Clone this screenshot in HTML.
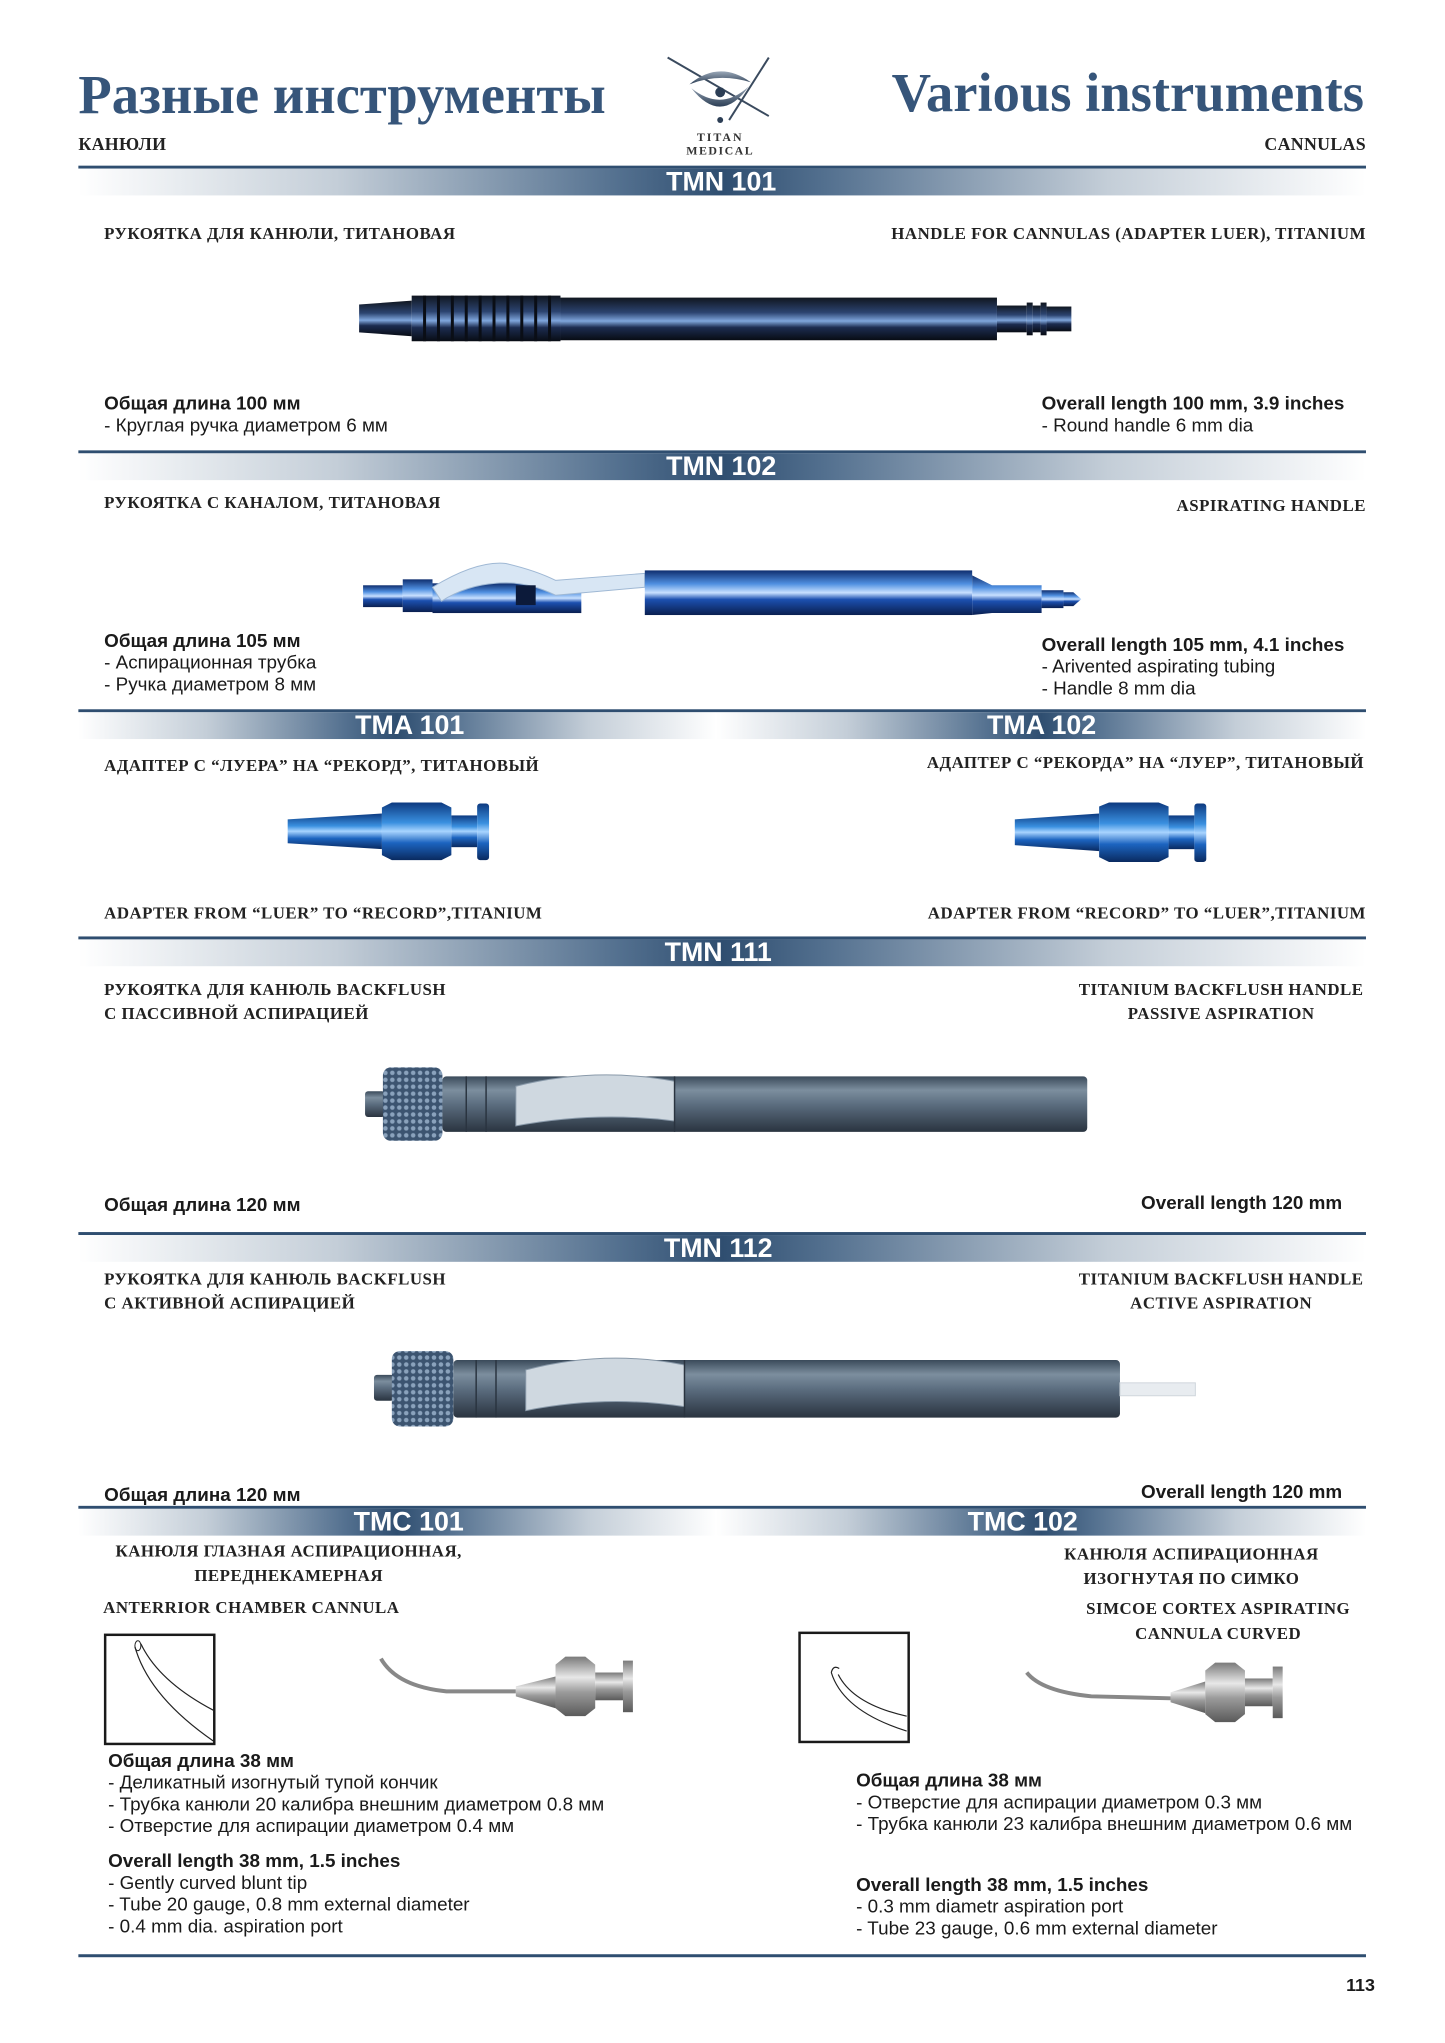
<!DOCTYPE html>
<html><head><meta charset="utf-8">
<style>
*{margin:0;padding:0;box-sizing:border-box}
body{width:1445px;height:2043px;background:#fff;position:relative;overflow:hidden;font-family:"Liberation Sans","Noto Sans CJK SC",sans-serif;color:#1a1a1a}
#w{position:absolute;left:0;top:0;width:1445px;height:2043px;transform:scale(0.992);transform-origin:0 0}
.a{position:absolute;white-space:nowrap}
.t{font-family:"Liberation Serif","Noto Serif CJK SC",serif;font-weight:bold;color:#36557a;font-size:55px;line-height:1}
.h{font-family:"Liberation Serif","Noto Serif CJK SC",serif;font-weight:bold;font-size:17px;letter-spacing:0.5px;line-height:24px;color:#222}
.b{font-size:19px;line-height:22px;color:#1a1a1a}
.b b{font-weight:bold}
.r{text-align:right}
.c{text-align:center}
.band{position:absolute;left:79px;width:1298px;height:30px;border-top:3px solid #2f4e70}
.band .g{position:absolute;top:0;height:27px;background:linear-gradient(to right,#fff 0%,#c4ced8 20%,#53708f 42%,#2f4e70 50%,#53708f 58%,#c4ced8 80%,#fff 100%)}
.band span{position:absolute;top:-1px;color:#fff;font-weight:bold;font-size:27px;line-height:29px;transform:translateX(-50%)}
.line{position:absolute;left:79px;width:1298px;height:3px;background:#2f4e70}
</style></head><body><div id="w">

<div class="a t" style="left:79px;top:68px">Разные инструменты</div>
<div class="a t" style="right:70px;top:66px">Various instruments</div>
<div class="a h" style="left:79px;top:133px;font-size:18px;letter-spacing:0.3px">КАНЮЛИ</div>
<div class="a h" style="right:68px;top:133px;font-size:18px;letter-spacing:0.3px">CANNULAS</div>

<!-- logo -->
<svg class="a" style="left:665px;top:55px" width="130" height="105" viewBox="0 0 130 105">
<defs><linearGradient id="lg" x1="0" y1="0" x2="0" y2="1"><stop offset="0" stop-color="#9aa8b8"/><stop offset="1" stop-color="#2c3e55"/></linearGradient></defs>
<line x1="8" y1="3" x2="110" y2="62" stroke="#3a4a5e" stroke-width="2"/>
<line x1="110" y1="3" x2="70" y2="66" stroke="#3a4a5e" stroke-width="2"/>
<path d="M30 30 Q60 5 92 28 Q60 18 30 30Z" fill="url(#lg)"/>
<path d="M32 34 Q62 72 90 32 Q62 58 32 34Z" fill="url(#lg)"/>
<circle cx="61" cy="38" r="5" fill="#2c3e55"/>
<circle cx="61" cy="66" r="3" fill="#2c3e55"/>
<text x="61" y="87" text-anchor="middle" font-family="Liberation Serif,serif" font-size="12" font-weight="bold" letter-spacing="2" fill="#333">TITAN</text>
<text x="61" y="101" text-anchor="middle" font-family="Liberation Serif,serif" font-size="12" font-weight="bold" letter-spacing="1.5" fill="#333">MEDICAL</text>
</svg>

<!-- bands -->
<div class="band" style="top:167px"><div class="g" style="left:0;width:1298px"></div><span style="left:648px">TMN 101</span></div>
<div class="band" style="top:454px"><div class="g" style="left:0;width:1298px"></div><span style="left:648px">TMN 102</span></div>
<div class="band" style="top:715px"><div class="g" style="left:0;width:643px"></div><div class="g" style="left:643px;width:655px"></div><span style="left:334px">TMA 101</span><span style="left:971px">TMA 102</span></div>
<div class="band" style="top:944px"><div class="g" style="left:0;width:1298px"></div><span style="left:645px">TMN 111</span></div>
<div class="band" style="top:1242px"><div class="g" style="left:0;width:1298px"></div><span style="left:645px">TMN 112</span></div>
<div class="band" style="top:1518px"><div class="g" style="left:0;width:643px"></div><div class="g" style="left:643px;width:655px"></div><span style="left:333px">TMC 101</span><span style="left:952px">TMC 102</span></div>
<div class="line" style="top:1970px"></div>
<div class="a" style="right:59px;top:1991px;font-weight:bold;font-size:18px">113</div>

<!-- TMN 101 -->
<div class="a h" style="left:105px;top:224px">РУКОЯТКА ДЛЯ КАНЮЛИ, ТИТАНОВАЯ</div>
<div class="a h r" style="right:68px;top:224px">HANDLE FOR CANNULAS (ADAPTER LUER), TITANIUM</div>
<div class="a b" style="left:105px;top:397px"><b>Общая длина 100 мм</b><br>- Круглая ручка диаметром 6 мм</div>
<div class="a b" style="left:1050px;top:397px"><b>Overall length 100 mm, 3.9 inches</b><br>- Round handle 6 mm dia</div>

<!-- TMN 102 -->
<div class="a h" style="left:105px;top:495px">РУКОЯТКА С КАНАЛОМ, ТИТАНОВАЯ</div>
<div class="a h r" style="right:68px;top:498px">ASPIRATING HANDLE</div>
<div class="a b" style="left:105px;top:636px"><b>Общая длина 105 мм</b><br>- Аспирационная трубка<br>- Ручка диаметром 8 мм</div>
<div class="a b" style="left:1050px;top:640px"><b>Overall length 105 mm, 4.1 inches</b><br>- Arivented aspirating tubing<br>- Handle 8 mm dia</div>

<!-- TMA -->
<div class="a h" style="left:105px;top:760px">АДАПТЕР С “ЛУЕРА” НА “РЕКОРД”, ТИТАНОВЫЙ</div>
<div class="a h r" style="right:70px;top:757px">АДАПТЕР С “РЕКОРДА” НА “ЛУЕР”, ТИТАНОВЫЙ</div>
<div class="a h" style="left:105px;top:909px">ADAPTER FROM “LUER” TO “RECORD”,TITANIUM</div>
<div class="a h r" style="right:68px;top:909px">ADAPTER FROM “RECORD” TO “LUER”,TITANIUM</div>

<!-- TMN 111 -->
<div class="a h" style="left:105px;top:986px">РУКОЯТКА ДЛЯ КАНЮЛЬ BACKFLUSH<br>С ПАССИВНОЙ АСПИРАЦИЕЙ</div>
<div class="a h c" style="left:1081px;width:300px;top:986px">TITANIUM BACKFLUSH HANDLE<br>PASSIVE ASPIRATION</div>
<div class="a b" style="left:105px;top:1205px"><b>Общая длина 120 мм</b></div>
<div class="a b r" style="right:92px;top:1203px"><b>Overall length 120 mm</b></div>

<!-- TMN 112 -->
<div class="a h" style="left:105px;top:1278px">РУКОЯТКА ДЛЯ КАНЮЛЬ BACKFLUSH<br>С АКТИВНОЙ АСПИРАЦИЕЙ</div>
<div class="a h c" style="left:1081px;width:300px;top:1278px">TITANIUM BACKFLUSH HANDLE<br>ACTIVE ASPIRATION</div>
<div class="a b" style="left:105px;top:1497px"><b>Общая длина 120 мм</b></div>
<div class="a b r" style="right:92px;top:1494px"><b>Overall length 120 mm</b></div>

<!-- TMC -->
<div class="a h c" style="left:91px;width:400px;top:1551px;line-height:25px">КАНЮЛЯ ГЛАЗНАЯ АСПИРАЦИОННАЯ,<br>ПЕРЕДНЕКАМЕРНАЯ</div>
<div class="a h" style="left:104px;top:1609px">ANTERRIOR CHAMBER CANNULA</div>
<div class="a h c" style="left:1051px;width:300px;top:1554px;line-height:25px">КАНЮЛЯ АСПИРАЦИОННАЯ<br>ИЗОГНУТАЯ ПО СИМКО</div>
<div class="a h c" style="left:1078px;width:300px;top:1609px;line-height:25px">SIMCOE CORTEX ASPIRATING<br>CANNULA CURVED</div>
<div class="a b" style="left:109px;top:1765px"><b>Общая длина 38 мм</b><br>- Деликатный изогнутый тупой кончик<br>- Трубка канюли 20 калибра внешним диаметром 0.8 мм<br>- Отверстие для аспирации диаметром 0.4 мм</div>
<div class="a b" style="left:109px;top:1866px"><b>Overall length 38 mm, 1.5 inches</b><br>- Gently curved blunt tip<br>- Tube 20 gauge, 0.8 mm external diameter<br>- 0.4 mm dia. aspiration port</div>
<div class="a b" style="left:863px;top:1785px"><b>Общая длина 38 мм</b><br>- Отверстие для аспирации диаметром 0.3 мм<br>- Трубка канюли 23 калибра внешним диаметром 0.6 мм</div>
<div class="a b" style="left:863px;top:1890px"><b>Overall length 38 mm, 1.5 inches</b><br>- 0.3 mm diametr aspiration port<br>- Tube 23 gauge, 0.6 mm external diameter</div>

<svg class="a" style="left:0;top:0" width="1445" height="2043" viewBox="0 0 1445 2043">
<defs>
<linearGradient id="bk" x1="0" y1="0" x2="0" y2="1"><stop offset="0" stop-color="#10161f"/><stop offset=".35" stop-color="#2c4470"/><stop offset=".55" stop-color="#7fa6dc"/><stop offset=".7" stop-color="#1c2c50"/><stop offset="1" stop-color="#080c14"/></linearGradient>
<linearGradient id="bl" x1="0" y1="0" x2="0" y2="1"><stop offset="0" stop-color="#0f2e6e"/><stop offset=".3" stop-color="#4f8fe0"/><stop offset=".5" stop-color="#c8e0ff"/><stop offset=".65" stop-color="#1c50b0"/><stop offset="1" stop-color="#0a1f50"/></linearGradient>
<linearGradient id="ad" x1="0" y1="0" x2="0" y2="1"><stop offset="0" stop-color="#0d3a80"/><stop offset=".35" stop-color="#3a90e0"/><stop offset=".5" stop-color="#a8d4ff"/><stop offset=".7" stop-color="#1c64c0"/><stop offset="1" stop-color="#0a2a60"/></linearGradient>
<linearGradient id="gr" x1="0" y1="0" x2="0" y2="1"><stop offset="0" stop-color="#3a4a5a"/><stop offset=".25" stop-color="#7c8e9e"/><stop offset=".5" stop-color="#5c6e80"/><stop offset="1" stop-color="#2a3440"/></linearGradient>
<linearGradient id="sv" x1="0" y1="0" x2="0" y2="1"><stop offset="0" stop-color="#7a7a7a"/><stop offset=".35" stop-color="#e8e8e8"/><stop offset=".6" stop-color="#9a9a9a"/><stop offset="1" stop-color="#5a5a5a"/></linearGradient>
<pattern id="kn" width="7" height="7" patternUnits="userSpaceOnUse"><rect width="7" height="7" fill="#3c5470"/><circle cx="3.5" cy="3.5" r="2.3" fill="#8aa2bc"/></pattern>
</defs>

<!-- TMN101 -->
<path d="M362 307 L415 303 L415 339 L362 335Z" fill="url(#bk)"/>
<rect x="415" y="298" width="150" height="46" fill="url(#bk)"/>
<g stroke="#0a0e16" stroke-width="3">
<line x1="428" y1="298" x2="428" y2="344"/><line x1="442" y1="298" x2="442" y2="344"/><line x1="456" y1="298" x2="456" y2="344"/><line x1="470" y1="298" x2="470" y2="344"/><line x1="484" y1="298" x2="484" y2="344"/><line x1="498" y1="298" x2="498" y2="344"/><line x1="512" y1="298" x2="512" y2="344"/><line x1="526" y1="298" x2="526" y2="344"/><line x1="540" y1="298" x2="540" y2="344"/><line x1="554" y1="298" x2="554" y2="344"/></g>
<rect x="565" y="300" width="440" height="43" fill="url(#bk)"/>
<rect x="1005" y="308" width="30" height="27" fill="url(#bk)"/>
<rect x="1035" y="305" width="6" height="33" fill="url(#bk)"/>
<rect x="1041" y="308" width="8" height="27" fill="url(#bk)"/>
<rect x="1049" y="305" width="6" height="33" fill="url(#bk)"/>
<rect x="1055" y="309" width="25" height="25" fill="url(#bk)"/>

<!-- TMN102 -->
<rect x="366" y="590" width="40" height="22" fill="url(#bl)"/>
<rect x="406" y="584" width="30" height="33" fill="url(#bl)"/>
<rect x="436" y="588" width="150" height="30" fill="url(#bl)"/>
<path d="M436 592 Q480 565 510 568 Q540 575 560 585 L650 578 L650 592 L560 600 Q530 585 500 588 Q470 590 445 606Z" fill="#d8e6f4" stroke="#9fb8d4"/>
<rect x="520" y="590" width="20" height="20" fill="#0c1a3a"/>
<rect x="650" y="575" width="330" height="45" fill="url(#bl)"/>
<path d="M980 580 L1000 590 L1050 590 L1050 618 L1000 618 L980 620Z" fill="url(#bl)"/>
<rect x="1050" y="595" width="22" height="18" fill="url(#bl)"/>
<path d="M1072 597 L1082 597 L1090 604 L1082 611 L1072 611Z" fill="url(#bl)"/>

<!-- TMA101 -->
<path d="M290 826 L385 820 L385 856 L290 850Z" fill="url(#ad)"/>
<path d="M385 814 L395 809 L445 809 L455 814 L455 862 L445 867 L395 867 L385 862Z" fill="url(#ad)"/>
<rect x="455" y="822" width="26" height="32" fill="url(#ad)"/>
<rect x="481" y="810" width="12" height="57" rx="3" fill="url(#ad)"/>
<!-- TMA102 -->
<path d="M1023 826 L1108 820 L1108 858 L1023 852Z" fill="url(#ad)"/>
<path d="M1108 813 L1118 809 L1168 809 L1178 813 L1178 864 L1168 869 L1118 869 L1108 864Z" fill="url(#ad)"/>
<rect x="1178" y="822" width="26" height="34" fill="url(#ad)"/>
<rect x="1204" y="810" width="12" height="59" rx="3" fill="url(#ad)"/>

<!-- TMN111 -->
<rect x="368" y="1100" width="20" height="26" rx="3" fill="url(#gr)"/>
<rect x="386" y="1076" width="60" height="74" rx="8" fill="url(#kn)"/>
<rect x="446" y="1085" width="650" height="56" rx="4" fill="url(#gr)"/>
<path d="M520 1095 Q600 1075 680 1090 L680 1130 Q600 1120 520 1135Z" fill="#cfd8e0" stroke="#8a9aaa"/>
<g stroke="#2a3440" stroke-width="1.5"><line x1="470" y1="1085" x2="470" y2="1141"/><line x1="490" y1="1085" x2="490" y2="1141"/><line x1="680" y1="1085" x2="680" y2="1141"/></g>

<!-- TMN112 -->
<rect x="377" y="1386" width="20" height="26" rx="3" fill="url(#gr)"/>
<rect x="395" y="1362" width="62" height="76" rx="8" fill="url(#kn)"/>
<rect x="457" y="1371" width="672" height="58" rx="4" fill="url(#gr)"/>
<path d="M530 1381 Q610 1360 690 1376 L690 1418 Q610 1406 530 1422Z" fill="#cfd8e0" stroke="#8a9aaa"/>
<g stroke="#2a3440" stroke-width="1.5"><line x1="480" y1="1371" x2="480" y2="1429"/><line x1="500" y1="1371" x2="500" y2="1429"/><line x1="690" y1="1371" x2="690" y2="1429"/></g>
<rect x="1129" y="1394" width="76" height="13" fill="#e8ecf0" stroke="#cfd6dc"/>

<!-- TMC101 -->
<rect x="106" y="1648" width="110" height="110" fill="none" stroke="#1a1a1a" stroke-width="2.5"/>
<path d="M136 1660 Q150 1710 215 1755" fill="none" stroke="#222" stroke-width="1.2"/>
<path d="M142 1657 Q160 1695 215 1724" fill="none" stroke="#222" stroke-width="1.2"/>
<ellipse cx="139" cy="1659" rx="3" ry="5" fill="none" stroke="#222"/>
<path d="M384 1672 Q400 1700 450 1705 L520 1705" fill="none" stroke="#888" stroke-width="4"/>
<path d="M520 1700 L560 1690 L560 1722 L520 1710Z" fill="url(#sv)"/>
<path d="M560 1678 L570 1670 L590 1670 L600 1678 L600 1722 L590 1730 L570 1730 L560 1722Z" fill="url(#sv)"/>
<rect x="600" y="1686" width="28" height="28" fill="url(#sv)"/>
<rect x="628" y="1674" width="10" height="52" fill="url(#sv)"/>

<!-- TMC102 -->
<rect x="806" y="1646" width="110" height="110" fill="none" stroke="#1a1a1a" stroke-width="2.5"/>
<path d="M838 1686 Q850 1725 914 1745" fill="none" stroke="#222" stroke-width="1.2"/>
<path d="M845 1688 Q860 1718 914 1730" fill="none" stroke="#222" stroke-width="1.2"/>
<path d="M838 1686 Q840 1678 846 1682" fill="none" stroke="#222" stroke-width="1.2"/>
<path d="M1035 1686 Q1050 1705 1100 1710 L1180 1712" fill="none" stroke="#888" stroke-width="4"/>
<path d="M1180 1706 L1215 1695 L1215 1727 L1180 1716Z" fill="url(#sv)"/>
<path d="M1215 1684 L1225 1676 L1245 1676 L1255 1684 L1255 1728 L1245 1736 L1225 1736 L1215 1728Z" fill="url(#sv)"/>
<rect x="1255" y="1692" width="28" height="28" fill="url(#sv)"/>
<rect x="1283" y="1680" width="10" height="52" fill="url(#sv)"/>
</svg>
</div></body></html>
